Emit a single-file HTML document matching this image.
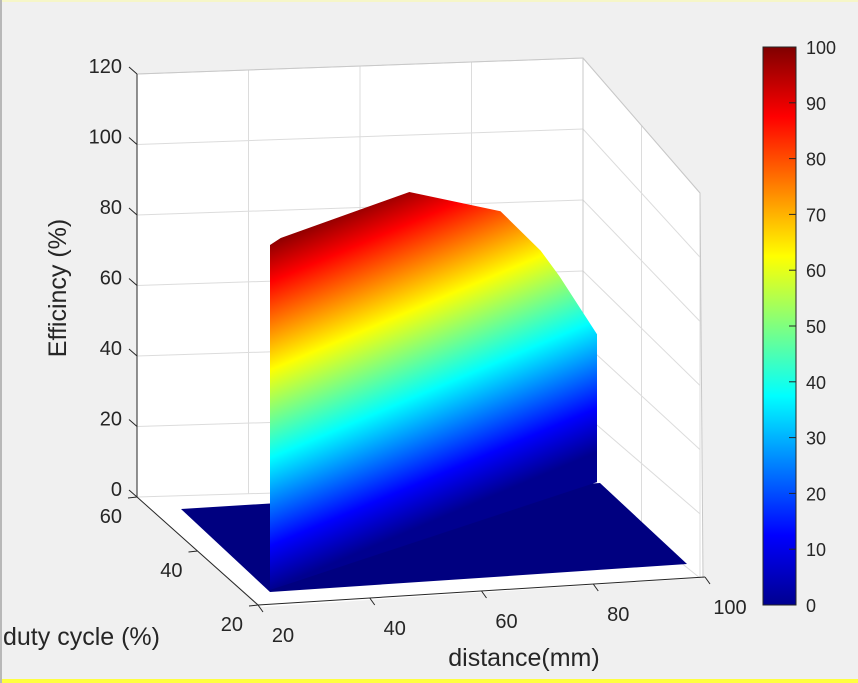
<!DOCTYPE html>
<html><head><meta charset="utf-8"><style>
html,body{margin:0;padding:0;background:#f0f0f0;}
svg{display:block;font-family:"Liberation Sans",Arial,sans-serif;}
</style></head><body>
<svg id="chart" width="858" height="683" viewBox="0 0 858 683" xmlns="http://www.w3.org/2000/svg">
<defs>
<linearGradient id="jetV" x1="0" y1="1" x2="0" y2="0">
<stop offset="0" stop-color="#00008f"/><stop offset="0.125" stop-color="#0000ff"/><stop offset="0.375" stop-color="#00ffff"/><stop offset="0.625" stop-color="#ffff00"/><stop offset="0.875" stop-color="#ff0000"/><stop offset="1" stop-color="#800000"/>
</linearGradient>
<linearGradient id="jetS" gradientUnits="userSpaceOnUse" x1="270" y1="590" x2="144" y2="291">
<stop offset="0" stop-color="#00008f"/><stop offset="0.125" stop-color="#0000ff"/><stop offset="0.375" stop-color="#00ffff"/><stop offset="0.625" stop-color="#ffff00"/><stop offset="0.875" stop-color="#ff0000"/><stop offset="1" stop-color="#800000"/>
</linearGradient>
</defs>
<rect x="0" y="0" width="858" height="683" fill="#f0f0f0"/>
<rect x="0" y="0" width="858" height="2" fill="#f6f6c8"/>
<rect x="0" y="679" width="858" height="4" fill="#ffff40"/>
<rect x="0" y="0" width="2" height="683" fill="#b8b8b8"/>
<g id="g"></g>
</svg>
<script>
const zTicks=[0,20,40,60,80,100,120];
const distTicks=[20,40,60,80,100];
const dutyTicks=[20,40,60];
const cbTicks=[0,10,20,30,40,50,60,70,80,90,100];
const profileDist=[23,47,64,71.5,75,82];
const profileEff=[99,100,86,71,62,42];

const NS="http://www.w3.org/2000/svg";
const g=document.getElementById('g');
function el(tag,attrs,text){const e=document.createElementNS(NS,tag);for(const k in attrs)e.setAttribute(k,attrs[k]);if(text!==undefined)e.textContent=text;g.appendChild(e);return e;}
function backLeftY(z){return 497-z*3.525;}
function backRightY(z){return 484-z*3.55;}
function rightFrontY(z){return 578-z*3.208;}
function backX(d){return 137+(d-20)/80*446;}
function sideX(du){return 583+(60-du)/40*117;}
function frontPt(d){const t=(d-20)/80;return [258+t*447,605-t*28];}
function dutyPt(du){const t=(60-du)/40;return [137+t*121,497+t*108];}
function surfX(d){return 270+(d-21)*(597-270)/(82-21);}
function surfY(d,z){const x=surfX(d);return 590-(x-270)*0.33-z*3.52;}

let e=el('polygon',{points:"137,74 583,58 700,193 703,578 262,607 137,497",fill:"#ffffff"});

const gc="#dcdcdc";
zTicks.forEach(z=>{
 let l=el('line',{x1:137,y1:backLeftY(z),x2:583,y2:backRightY(z),stroke:gc,'stroke-width':1});
 
 let r=el('line',{x1:583,y1:backRightY(z),x2:700,y2:rightFrontY(z),stroke:gc,'stroke-width':1});
 
});
distTicks.forEach(d=>{
 const x=backX(d),t=(d-20)/80;
 let l=el('line',{x1:x,y1:74-16*t,x2:x,y2:497-13*t,stroke:gc});
 
});
dutyTicks.forEach(du=>{
 const x=sideX(du),t=(60-du)/40;
 let l=el('line',{x1:x,y1:58+135*t,x2:x,y2:484+94*t,stroke:gc});
 
});
e=el('polyline',{points:"137,74 583,58 700,193 703,578",fill:"none",stroke:"#c8c8c8"});
e=el('line',{x1:583,y1:58,x2:583,y2:484,stroke:"#c8c8c8"});
e=el('polygon',{points:"181,509 270,592 687,564 600,483",fill:"#000080"});

let pts=[[270,590],[270,245]];
profileDist.forEach((d,i)=>pts.push([surfX(d),surfY(d,profileEff[i])]));
const last=profileDist[profileDist.length-1];
pts.push([surfX(last),surfY(last,0)]);
e=el('polygon',{points:pts.map(p=>p.join(',')).join(' '),fill:"url(#jetS)"});

const ac="#262626";
e=el('line',{x1:137,y1:74,x2:137,y2:497,stroke:ac});
e=el('line',{x1:137,y1:497,x2:258,y2:605,stroke:ac});
e=el('line',{x1:258,y1:605,x2:705,y2:577,stroke:ac});
zTicks.forEach(z=>{
 const y=backLeftY(z);
 let t=el('line',{x1:129,y1:y-7,x2:137,y2:y,stroke:ac});
 let lb=el('text',{x:122,y:y-1,'font-size':20,fill:'#262626','text-anchor':'end'},String(z));
 
});
distTicks.forEach(d=>{
 const [x,y]=frontPt(d);
 let t=el('line',{x1:x,y1:y,x2:x+5,y2:y+7,stroke:ac});
 let lb=el('text',{x:x+25,y:y+37,'font-size':20,fill:'#262626','text-anchor':'middle'},String(d));
 
});
dutyTicks.forEach(du=>{
 const [x,y]=dutyPt(du);
 let t=el('line',{x1:x,y1:y,x2:x-9,y2:y+1,stroke:ac});
 let lb=el('text',{x:x-15,y:y+26,'font-size':20,fill:'#262626','text-anchor':'end'},String(du));
 
});
e=el('text',{x:0,y:0,'font-size':25,fill:'#262626','text-anchor':'middle',transform:'translate(66,288) rotate(-90)'},'Efficincy (%)');

e=el('text',{x:3,y:645,'font-size':25,fill:'#262626'},'duty cycle (%)');

e=el('text',{x:524,y:666,'font-size':25,fill:'#262626','text-anchor':'middle'},'distance(mm)');

const cbTop=47,cbBot=605;
e=el('rect',{x:763,y:cbTop,width:33,height:cbBot-cbTop,fill:'url(#jetV)',stroke:'#262626'});

cbTicks.forEach(v=>{
 const y=cbBot-(v/100)*(cbBot-cbTop);
 let t=el('line',{x1:789,y1:y,x2:796,y2:y,stroke:'#262626'});
 let lb=el('text',{x:806,y:y+7,'font-size':18,fill:'#262626'},String(v));
 
});
</script>
</body></html>
